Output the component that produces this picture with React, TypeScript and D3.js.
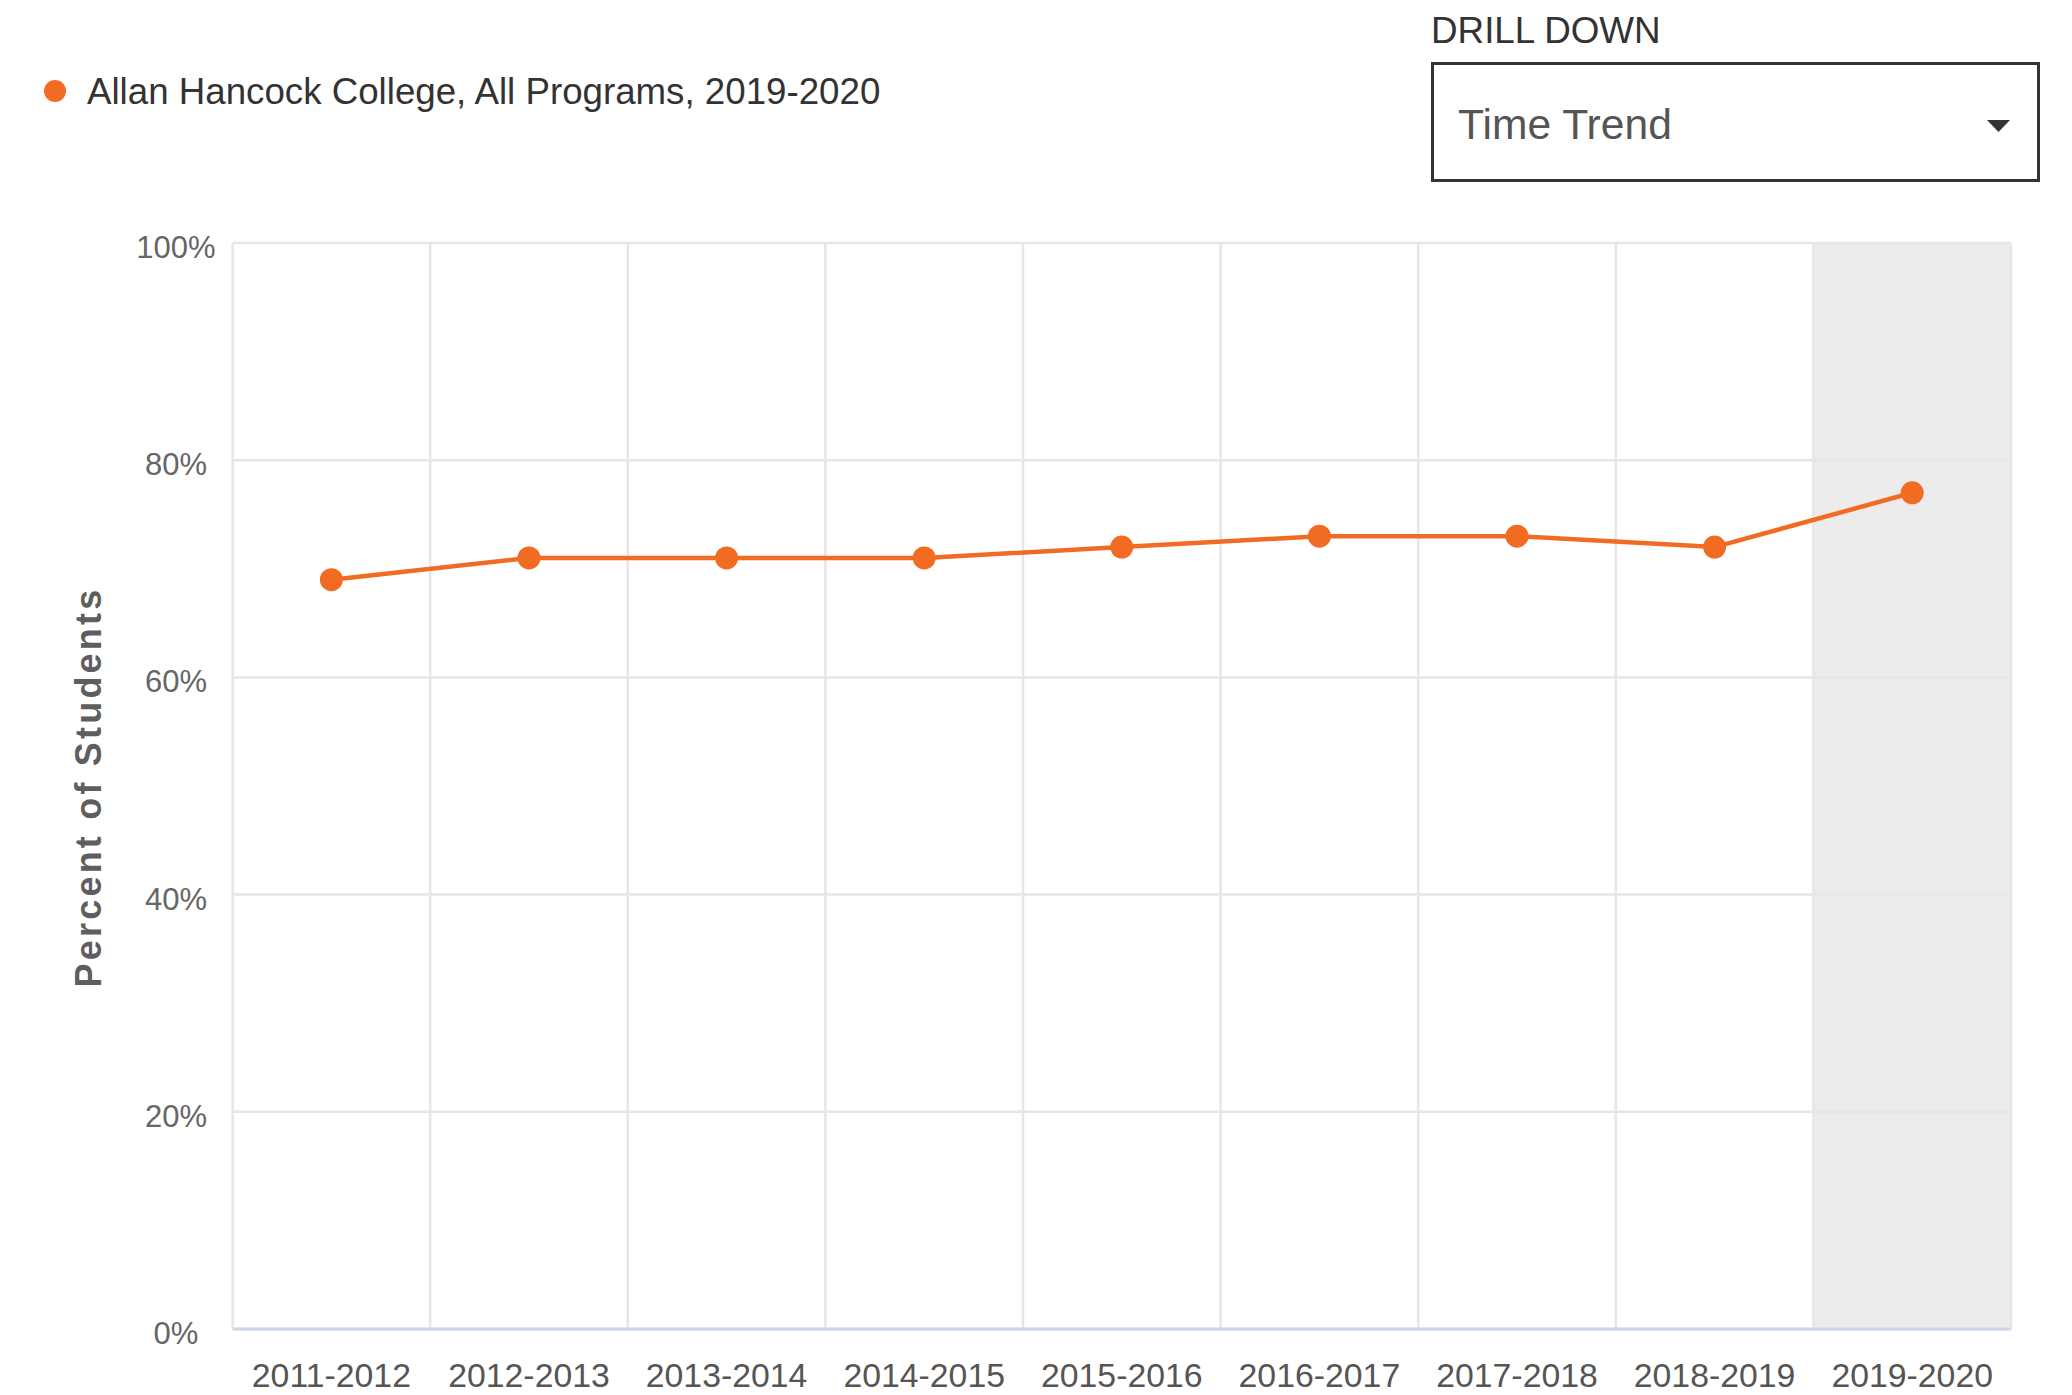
import React from "react";
import * as d3 from "d3";

const categories = [
  "2011-2012",
  "2012-2013",
  "2013-2014",
  "2014-2015",
  "2015-2016",
  "2016-2017",
  "2017-2018",
  "2018-2019",
  "2019-2020",
];
const values = [69, 71, 71, 71, 72, 73, 73, 72, 77];
const yTicks = [0, 20, 40, 60, 80, 100];
const seriesName = "Allan Hancock College, All Programs, 2019-2020";
const highlightedCategory = "2019-2020";
const yTitle = "Percent of Students";
const drillLabel = "DRILL DOWN";
const drillValue = "Time Trend";

const W = 2072;
const H = 1395;
const plot = { left: 232.6, right: 2011, top: 243, bottom: 1329 };
const ORANGE = "#f26b22";
const FONT = "'Liberation Sans', Arial, sans-serif";

export default function App() {
  const x = d3
    .scaleBand<string>()
    .domain(categories)
    .range([plot.left, plot.right]);
  const y = d3.scaleLinear().domain([0, 100]).range([plot.bottom, plot.top]);

  const pts = categories.map((c, i) => ({
    x: (x(c) as number) + x.bandwidth() / 2,
    y: y(values[i]),
  }));
  const line = d3
    .line<{ x: number; y: number }>()
    .x((d) => d.x)
    .y((d) => d.y);

  const hx = x(highlightedCategory) as number;

  return (
    <svg
      width={W}
      height={H}
      style={{ position: "absolute", left: 0, top: 0, background: "#fff" }}
      fontFamily={FONT}
    >
      {/* highlighted band */}
      <rect
        x={hx}
        y={plot.top}
        width={x.bandwidth()}
        height={plot.bottom - plot.top}
        fill="#ececec"
      />
      {/* horizontal grid */}
      {yTicks.map((t) => (
        <line
          key={"h" + t}
          x1={plot.left}
          x2={plot.right}
          y1={y(t)}
          y2={y(t)}
          stroke="#e6e6e6"
          strokeWidth={2.5}
        />
      ))}
      {/* vertical grid */}
      {categories.map((c) => (
        <line
          key={"v" + c}
          x1={x(c) as number}
          x2={x(c) as number}
          y1={plot.top}
          y2={plot.bottom}
          stroke="#e6e6e6"
          strokeWidth={2.5}
        />
      ))}
      <line
        x1={plot.right}
        x2={plot.right}
        y1={plot.top}
        y2={plot.bottom}
        stroke="#e6e6e6"
        strokeWidth={2.5}
      />
      {/* x axis line */}
      <line
        x1={plot.left}
        x2={plot.right}
        y1={plot.bottom}
        y2={plot.bottom}
        stroke="#ccd6eb"
        strokeWidth={3}
      />
      {/* y tick labels */}
      {yTicks.map((t) => (
        <text
          key={"yl" + t}
          x={176}
          y={y(t) + 15}
          textAnchor="middle"
          fontSize={31}
          fill="#666"
        >
          {t + "%"}
        </text>
      ))}
      {/* x tick labels */}
      {categories.map((c) => (
        <text
          key={"xl" + c}
          x={(x(c) as number) + x.bandwidth() / 2}
          y={1387}
          textAnchor="middle"
          fontSize={33.8}
          fill="#555"
        >
          {c}
        </text>
      ))}
      {/* y title */}
      <text
        transform={`translate(101,787) rotate(-90)`}
        textAnchor="middle"
        fontSize={36}
        fontWeight="bold"
        fill="#5e5e5e"
        letterSpacing={3.2}
      >
        {yTitle}
      </text>
      {/* series line */}
      <path d={line(pts) || ""} fill="none" stroke={ORANGE} strokeWidth={4.5} />
      {pts.map((p, i) => (
        <circle key={"p" + i} cx={p.x} cy={p.y} r={11.5} fill={ORANGE} />
      ))}
      {/* legend */}
      <circle cx={55} cy={91} r={11} fill={ORANGE} />
      <text x={87} y={104} fontSize={36.7} fill="#333">
        {seriesName}
      </text>
      {/* drill down */}
      <text x={1431} y={43} fontSize={36.8} fill="#333">
        {drillLabel}
      </text>
      <rect
        x={1432.5}
        y={63.5}
        width={606}
        height={117}
        fill="#fff"
        stroke="#333"
        strokeWidth={3}
      />
      <text x={1458} y={139} fontSize={42.6} fill="#555">
        {drillValue}
      </text>
      <path d="M1987,120 L2010,120 L1998.5,132 Z" fill="#333" />
    </svg>
  );
}
